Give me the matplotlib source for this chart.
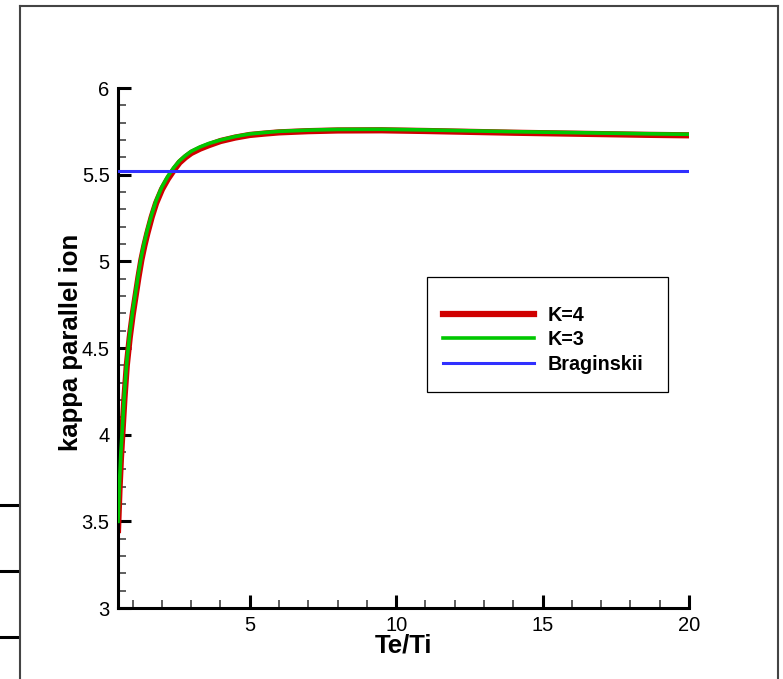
import matplotlib
matplotlib.use("Agg")
import matplotlib.pyplot as plt
from matplotlib.lines import Line2D
from matplotlib.patches import Rectangle
from matplotlib.ticker import MultipleLocator, FuncFormatter

plt.rcParams["font.family"] = ["Liberation Sans", "DejaVu Sans"]

# values
te_ti = [0.5, 0.55, 0.6, 0.65, 0.72, 0.8, 0.9, 1.0, 1.1, 1.2, 1.3, 1.4, 1.5, 1.65,
         1.8, 2.0, 2.2, 2.4, 2.6, 2.8, 3.0, 3.3, 3.6, 4.0, 4.5, 5.0, 5.5, 6.0, 7.0,
         8.0, 9.5, 11.0, 12.5, 14.0, 15.5, 17.0, 18.5, 20.0]
kappa_k3 = [3.50, 3.72, 3.90, 4.04, 4.24, 4.42, 4.58, 4.71, 4.82, 4.93, 5.03, 5.11,
            5.18, 5.27, 5.35, 5.43, 5.49, 5.54, 5.58, 5.61, 5.635, 5.66, 5.68, 5.70,
            5.72, 5.735, 5.743, 5.75, 5.757, 5.761, 5.762, 5.758, 5.753, 5.748,
            5.744, 5.740, 5.736, 5.733]
kappa_k4 = [3.45, 3.68, 3.865, 4.01, 4.21, 4.40, 4.56, 4.69, 4.80, 4.91, 5.01, 5.09,
            5.16, 5.255, 5.335, 5.415, 5.475, 5.525, 5.57, 5.60, 5.625, 5.65, 5.67,
            5.694, 5.714, 5.729, 5.737, 5.744, 5.751, 5.755, 5.756, 5.752, 5.747,
            5.742, 5.738, 5.734, 5.730, 5.727]
braginskii_x = [0.5, 20.0]
braginskii = [5.52, 5.52]

fig = plt.figure(figsize=(7.83, 6.79), dpi=100)
ax = fig.add_axes([118 / 783, 1 - 608 / 679, 571 / 783, 520 / 679])

ax.plot(te_ti, kappa_k4, color="#d00000", lw=4.5, label="K=4", zorder=2,
        solid_joinstyle="round")
ax.plot(te_ti, kappa_k3, color="#00c800", lw=2.6, label="K=3", zorder=3,
        solid_joinstyle="round")
ax.plot(braginskii_x, braginskii, color="#3030ff", lw=2.2, label="Braginskii", zorder=4)

ax.set_xlim(0.5, 20)
ax.set_ylim(3, 6)
ax.xaxis.set_major_locator(MultipleLocator(5))
ax.xaxis.set_minor_locator(MultipleLocator(1))
ax.yaxis.set_major_locator(MultipleLocator(0.5))
ax.yaxis.set_minor_locator(MultipleLocator(0.1))
ax.yaxis.set_major_formatter(FuncFormatter(lambda v, p: f"{v:g}"))

for side in ("top", "right"):
    ax.spines[side].set_visible(False)
for side in ("left", "bottom"):
    ax.spines[side].set_linewidth(2.2)

ax.tick_params(which="major", direction="in", length=9.5, width=2.2, labelsize=14.5, pad=6)
ax.tick_params(which="minor", direction="in", length=5.5, width=1.1, color="#333333")

ax.set_xlabel("Te/Ti", fontsize=18.5, fontweight="bold", labelpad=-1)
ax.set_ylabel("kappa parallel ion", fontsize=18.5, fontweight="bold")
ax.yaxis.set_label_coords(-0.061, 0.51)

# legend box
ax.add_patch(Rectangle((0.541, 0.415), 0.422, 0.2215, transform=ax.transAxes,
                       facecolor="white", edgecolor="black", lw=0.9, zorder=5))
leg = ax.legend(loc="center left", bbox_to_anchor=(0.556, 0.516), frameon=False,
                prop={"size": 14.2, "weight": "bold"}, handlelength=4.6,
                handletextpad=0.7, labelspacing=0.28, borderaxespad=0)
leg.set_zorder(6)

# page frame and stray marks at left edge
frame = dict(color="#444444", lw=1.5)
fig.add_artist(Line2D([19.5 / 783, 19.5 / 783], [0, 1 - 6 / 679], **frame))
fig.add_artist(Line2D([19.5 / 783, 778 / 783], [1 - 6 / 679, 1 - 6 / 679], **frame))
fig.add_artist(Line2D([778 / 783, 778 / 783], [0, 1 - 6 / 679], **frame))
for ypx in (505, 571, 637):
    fig.add_artist(Line2D([0, 17 / 783], [1 - ypx / 679, 1 - ypx / 679], color="black", lw=2.2))

fig.savefig("out.png", dpi=100)
